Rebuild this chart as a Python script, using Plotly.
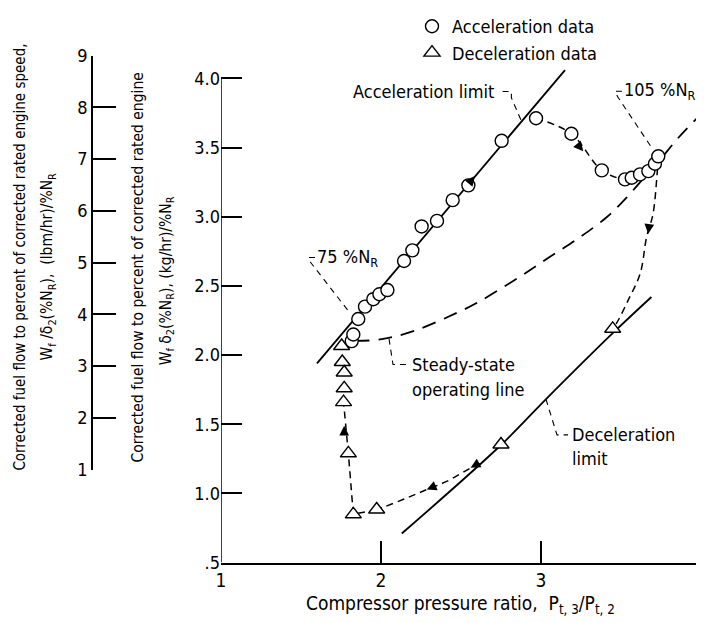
import plotly.graph_objects as go

FONT = "DejaVu Sans Condensed, Liberation Sans Narrow, Arial Narrow, sans-serif"

# ---- data ----
accel_x = [1.817, 1.827, 1.858, 1.90, 1.952, 1.99, 2.04, 2.144, 2.196, 2.254, 2.35, 2.448, 2.546,
           2.754, 2.969, 3.19, 3.38, 3.525, 3.567, 3.619, 3.671, 3.712, 3.733]
accel_y = [2.101, 2.149, 2.261, 2.35, 2.404, 2.44, 2.47, 2.68, 2.757, 2.93, 2.97, 3.12, 3.227,
           3.549, 3.712, 3.60, 3.335, 3.27, 3.282, 3.306, 3.33, 3.383, 3.437]

decel_x = [1.754, 1.758, 1.77, 1.77, 1.766, 1.796, 1.827, 1.973, 2.75, 3.448]
decel_y = [2.066, 1.95, 1.874, 1.76, 1.66, 1.29, 0.849, 0.884, 1.354, 2.19]

accel_limit_x = [1.60, 3.15]
accel_limit_y = [1.94, 4.06]

decel_limit_x = [2.13, 2.75, 3.03, 3.45, 3.69]
decel_limit_y = [0.71, 1.35, 1.68, 2.16, 2.42]

steady_x = [1.84, 1.994, 2.202, 2.514, 2.619, 2.869, 3.056, 3.244, 3.41, 3.536, 3.65, 3.75, 3.85, 3.973]
steady_y = [2.103, 2.113, 2.173, 2.327, 2.39, 2.567, 2.71, 2.853, 2.996, 3.14, 3.29, 3.42, 3.56, 3.71]

# dashed transient paths
decel_path1_x = [3.733, 3.725, 3.70, 3.66, 3.62, 3.546, 3.473, 3.448]
decel_path1_y = [3.437, 3.30, 3.02, 2.853, 2.59, 2.399, 2.232, 2.19]
decel_path2_x = [2.62, 2.577, 2.41, 2.286, 2.16, 2.014, 1.973]
decel_path2_y = [1.215, 1.194, 1.087, 1.028, 0.967, 0.90, 0.884]
decel_path3_x = [1.973, 1.827, 1.796, 1.766]
decel_path3_y = [0.884, 0.849, 1.29, 1.66]

# flow-direction arrows (head position and direction)
arrow_x = [2.5875, 3.264, 3.67, 2.286, 2.56, 1.77]
arrow_y = [3.294, 3.473, 2.877, 1.028, 1.185, 1.49]
arrow_dx = [1, 1, -0.1, -1, -1, 0]
arrow_dy = [1.3716, -1.4, -1, -0.5, -0.65, 1]

xticks = [1, 2, 3, 4]
yticks = [0.5, 1.0, 1.5, 2.0, 2.5, 3.0, 3.5, 4.0]
yticklabels = [".5", "1.0", "1.5", "2.0", "2.5", "3.0", "3.5", "4.0"]
y2ticks = [1, 2, 3, 4, 5, 6, 7, 8, 9]

OFF = 8                      # browser body margin
W, H = 704 - OFF, 623 - OFF  # figure size so the page fits the window
PXX, PXY = 160.0, 139.7      # pixel per data unit (for arrow length)


def px(xp):
    return (xp - OFF) / W


def py(yp):
    return 1 - (yp - OFF) / H


fig = go.Figure()

fig.add_trace(go.Scatter(x=accel_limit_x, y=accel_limit_y, mode="lines",
                         line=dict(color="black", width=1.8), showlegend=False, hoverinfo="skip"))
fig.add_trace(go.Scatter(x=decel_limit_x, y=decel_limit_y, mode="lines", line_shape="spline",
                         line=dict(color="black", width=1.8), showlegend=False, hoverinfo="skip"))
fig.add_trace(go.Scatter(x=steady_x, y=steady_y, mode="lines", line_shape="spline",
                         line=dict(color="black", width=1.8, dash="14px,9px"), showlegend=False, hoverinfo="skip"))
fig.add_trace(go.Scatter(x=accel_x[14:], y=accel_y[14:], mode="lines", line_shape="spline",
                         line=dict(color="black", width=1.5, dash="7px,5px"), showlegend=False, hoverinfo="skip"))
fig.add_trace(go.Scatter(x=decel_path1_x, y=decel_path1_y, mode="lines", line_shape="spline",
                         line=dict(color="black", width=1.5, dash="7px,5px"), showlegend=False, hoverinfo="skip"))
fig.add_trace(go.Scatter(x=decel_path2_x, y=decel_path2_y, mode="lines", line_shape="spline",
                         line=dict(color="black", width=1.5, dash="7px,5px"), showlegend=False, hoverinfo="skip"))
fig.add_trace(go.Scatter(x=decel_path3_x, y=decel_path3_y, mode="lines",
                         line=dict(color="black", width=1.5, dash="7px,5px"), showlegend=False, hoverinfo="skip"))

# label leader lines
leaders = [
    ([2.76, 2.815, 2.815, 2.878], [3.905, 3.905, 3.86, 3.69]),
    ([3.506, 3.4625, 3.481, 3.70], [3.907, 3.907, 3.864, 3.485]),
    ([1.5875, 1.547, 1.556, 1.806], [2.705, 2.705, 2.676, 2.304]),
    ([2.05, 2.075, 2.1625], [2.118, 1.932, 1.932]),
    ([3.031, 3.10, 3.169], [1.681, 1.423, 1.423]),
]
for lx, ly in leaders:
    fig.add_trace(go.Scatter(x=lx, y=ly, mode="lines", line=dict(color="black", width=1.1, dash="6px,5px"),
                             showlegend=False, hoverinfo="skip"))

fig.add_trace(go.Scatter(x=accel_x, y=accel_y, mode="markers", name="Acceleration data",
                         marker=dict(symbol="circle", size=13, color="white", line=dict(color="black", width=1.4))))
fig.add_trace(go.Scatter(x=decel_x, y=decel_y, mode="markers", name="Deceleration data",
                         marker=dict(symbol="triangle-up", size=14, color="white", line=dict(color="black", width=1.4))))

# secondary (lbm/hr) axis holder
fig.add_trace(go.Scatter(x=[], y=[], xaxis="x2", yaxis="y2", showlegend=False, hoverinfo="skip"))

annotations = []
for hx, hy, dx, dy in zip(arrow_x, arrow_y, arrow_dx, arrow_dy):
    vx, vy = dx * PXX, dy * PXY
    n = (vx * vx + vy * vy) ** 0.5
    L = 9.0
    annotations.append(dict(x=hx, y=hy, ax=hx - vx / n * L / PXX, ay=hy - vy / n * L / PXY,
                            xref="x", yref="y", axref="x", ayref="y", text="", showarrow=True,
                            arrowhead=2, arrowsize=1.3, arrowwidth=1.5, arrowcolor="black", standoff=0))

tf = dict(family=FONT, size=18, color="black")
labels = [
    ("Acceleration limit", 2.719, 3.905, "right"),
    ("105 %N<sub>R</sub>", 3.508, 3.907, "left"),
    ("75 %N<sub>R</sub>", 1.59, 2.705, "left"),
    ("Steady-state", 2.181, 1.932, "left"),
    ("operating line", 2.181, 1.753, "left"),
    ("Deceleration", 3.181, 1.423, "left"),
    ("limit", 3.181, 1.25, "left"),
]
for t, x, y, anc in labels:
    annotations.append(dict(x=x, y=y, xref="x", yref="y", text=t, showarrow=False,
                            xanchor=anc, yanchor="middle", font=tf))

# axis titles
title_font = dict(family=FONT, size=15.5, color="black")
annotations += [
    dict(x=px(460), y=py(604), xref="paper", yref="paper", showarrow=False, xanchor="center", yanchor="middle",
         text="Compressor pressure ratio,  P<sub>t, 3</sub>/P<sub>t, 2</sub>",
         font=dict(family=FONT, size=19, color="black")),
    dict(x=px(20), y=py(254), xref="paper", yref="paper", showarrow=False, textangle=-90,
         xanchor="center", yanchor="middle",
         text="Corrected fuel flow to percent of corrected rated engine speed,",
         font=dict(family=FONT, size=15, color="black")),
    dict(x=px(48), y=py(263), xref="paper", yref="paper", showarrow=False, textangle=-90,
         xanchor="center", yanchor="middle",
         text="W<sub>f</sub> /δ<sub>2</sub>(%N<sub>R</sub>),  (lbm/hr)/%N<sub>R</sub>", font=title_font),
    dict(x=px(138), y=py(264), xref="paper", yref="paper", showarrow=False, textangle=-90,
         xanchor="center", yanchor="middle",
         text="Corrected fuel flow to percent of corrected rated engine", font=title_font),
    dict(x=px(167), y=py(278), xref="paper", yref="paper", showarrow=False, textangle=-90,
         xanchor="center", yanchor="middle",
         text="W<sub>f</sub> δ<sub>2</sub>(%N<sub>R</sub>), (kg/hr)/%N<sub>R</sub>", font=title_font),
]

y_top_px = 562 - (4.1 - 0.5) * PXY
tick_font = dict(family=FONT, size=18, color="black")
fig.update_layout(
    width=W, height=H, margin=dict(l=0, r=0, t=0, b=0),
    paper_bgcolor="white", plot_bgcolor="white",
    font=dict(family=FONT, size=18, color="black"),
    showlegend=True,
    legend=dict(x=px(412), y=py(2), xanchor="left", yanchor="top", bgcolor="rgba(0,0,0,0)",
                font=dict(family=FONT, size=18, color="black"), tracegroupgap=0, itemwidth=30),
    xaxis=dict(domain=[px(221), px(701)], range=[1, 4], tickvals=xticks, ticktext=[str(v) for v in xticks],
               ticks="inside", ticklen=22, tickwidth=1.5, tickcolor="black", showline=True, linewidth=1.5,
               linecolor="black", showgrid=False, zeroline=False, automargin=False, anchor="y",
               tickfont=dict(family=FONT, size=19, color="black")),
    yaxis=dict(domain=[py(562), py(y_top_px)], range=[0.5, 4.1], tickvals=yticks,
               ticktext=yticklabels, ticks="inside", ticklen=21, tickwidth=1.5, tickcolor="black",
               showline=False, showgrid=False, zeroline=False, automargin=False, anchor="x",
               tickfont=tick_font),
    xaxis2=dict(domain=[px(93), px(150)], range=[0, 1], visible=False, anchor="y2"),
    yaxis2=dict(domain=[py(468), py(50)], range=[1, 9], tickvals=y2ticks,
                ticktext=[str(v) for v in y2ticks], anchor="x2", side="left",
                ticks="inside", ticklen=23, tickwidth=1.5, tickcolor="black", showline=True, linewidth=1.5,
                linecolor="black", showgrid=False, zeroline=False, automargin=False,
                tickfont=tick_font),
    annotations=annotations,
    shapes=[dict(type="line", xref="x", yref="y", x0=xticks[0], x1=xticks[0], y0=yticks[0], y1=yticks[-1],
                 line=dict(color="black", width=1.5))],
)

fig.write_html("out.html")
